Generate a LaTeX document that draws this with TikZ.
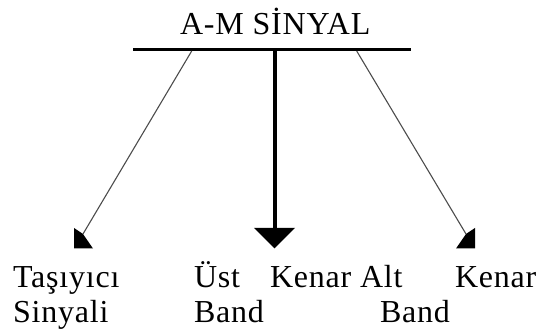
\documentclass[tikz,border=0pt]{standalone}
\usepackage{fontspec}
\setmainfont{Liberation Serif}
\newfontfamily\spacedserif[LetterSpace=2.5]{Liberation Serif}
\begin{document}
\begin{tikzpicture}[x=1pt,y=-1pt,
  lbl/.style={anchor=base west, inner sep=0pt, outer sep=0pt, font=\spacedserif\fontsize{32}{35}\selectfont},
  sideline/.style={draw=black!70, line width=1.1pt},
  headfill/.style={fill=black, draw=none}]
\useasboundingbox (0,0) rectangle (539,336);
\node[lbl] (title) at (180,35) {A-M SİNYAL};
% bar
\coordinate (barL) at (133,49.5);
\coordinate (barR) at (411,49.5);
\draw[line width=3.5pt] (barL) -- (barR);
% middle arrow
\coordinate (mtop) at (274.5,49.5);
\coordinate (mhead) at (274.5,229);
\draw[line width=4pt] (mtop) -- (mhead);
\fill[headfill] (254,228) -- (295,228) -- (274.5,248.5) -- cycle;
% left arrow
\coordinate (ltop) at (191.7,51);
\coordinate (lhead) at (83,234);
\draw[sideline] (ltop) -- (lhead);
\fill[headfill] (74,228) -- (lhead) -- (93,248.5) -- (74,248.5) -- cycle;
% right arrow
\coordinate (rtop) at (356.7,51);
\coordinate (rhead) at (466,234);
\draw[sideline] (rtop) -- (rhead);
\fill[headfill] (475,228) -- (rhead) -- (456,248.5) -- (475,248.5) -- cycle;
% labels
\node[lbl] (t1) at (13,288) {Taşıyıcı};
\node[lbl] (t2) at (13,323) {Sinyali};
\node[lbl] (u1) at (194,288) {Üst};
\node[lbl] (u2) at (270,288) {Kenar};
\node[lbl] (u3) at (194,323) {Band};
\node[lbl] (a1) at (360,288) {Alt};
\node[lbl] (a2) at (455,288) {Kenar};
\node[lbl] (a3) at (380,323) {Band};
\end{tikzpicture}
\end{document}
